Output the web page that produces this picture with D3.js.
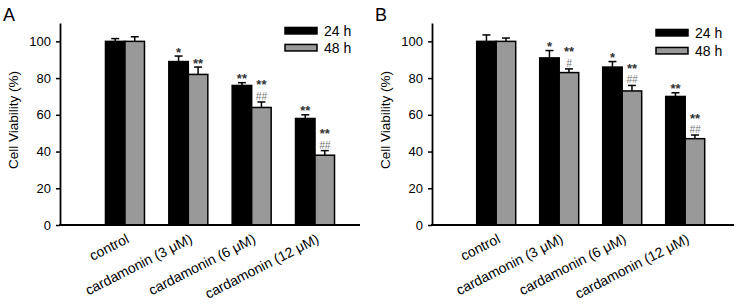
<!DOCTYPE html>
<html>
<head>
<meta charset="utf-8">
<script src="https://cdn.jsdelivr.net/npm/d3@7"></script>
<style>
  html, body { margin: 0; padding: 0; background: #fff; }
  svg { display: block; }
  text { font-family: "Liberation Sans", Arial, Helvetica, sans-serif; }
</style>
</head>
<body>
<svg id="chart" width="744" height="307"></svg>
<script>
// ---------- data ----------
const categories = ["control", "cardamonin (3 \u03BCM)", "cardamonin (6 \u03BCM)", "cardamonin (12 \u03BCM)"];
const seriesNames = ["24 h", "48 h"];
const yTicks = [0, 20, 40, 60, 80, 100];

const panelA_24h = [100, 89, 76, 58];
const panelA_24h_err = [1.5, 3, 1.5, 2];
const panelA_48h = [100, 82, 64, 38];
const panelA_48h_err = [2.5, 4, 3, 2.5];
const panelA_sig24 = ["", "*", "**", "**"];
const panelA_sig48 = ["", "**", "**", "**"];
const panelA_hash48 = ["", "", "##", "##"];

const panelB_24h = [100, 91, 86, 70];
const panelB_24h_err = [3.5, 4, 3, 2];
const panelB_48h = [100, 83, 73, 47];
const panelB_48h_err = [1.8, 2, 3, 2];
const panelB_sig24 = ["", "*", "*", "**"];
const panelB_sig48 = ["", "**", "**", "**"];
const panelB_hash48 = ["", "#", "##", "##"];

const seriesColors = ["#000000", "#999999"];

// ---------- drawing ----------
const svg = d3.select("#chart");

function drawPanel(p) {
  const g = svg.append("g");
  const y = d3.scaleLinear().domain([0, 110]).range([225, 23]);
  const x = d3.scaleBand().domain(categories).range(p.bandRange).padding(0);
  const xs = d3.scaleBand().domain(seriesNames).range([-19.5, 19.5]).padding(0);

  // panel letter
  g.append("text").attr("x", p.letterX).attr("y", 21)
    .attr("font-size", 18).attr("fill", "#000").text(p.letter);

  // y label
  g.append("text")
    .attr("transform", `translate(${p.yLabelX},120) rotate(-90)`)
    .attr("text-anchor", "middle").attr("font-size", 13.5).attr("fill", "#000")
    .text("Cell Viability (%)");

  const series = [
    { name: seriesNames[0], values: p.v24, errs: p.e24, color: seriesColors[0] },
    { name: seriesNames[1], values: p.v48, errs: p.e48, color: seriesColors[1] }
  ];

  series.forEach(s => {
    const data = categories.map((c, i) => ({ c, v: s.values[i], e: s.errs[i] }));
    // error bars
    const eg = g.append("g");
    data.forEach(d => {
      const cx = x(d.c) + x.bandwidth() / 2 + xs(s.name) + xs.bandwidth() / 2;
      eg.append("line").attr("x1", cx).attr("x2", cx)
        .attr("y1", y(d.v)).attr("y2", y(d.v + d.e))
        .attr("stroke", "#000").attr("stroke-width", 1.5);
      eg.append("line").attr("x1", cx - 4).attr("x2", cx + 4)
        .attr("y1", y(d.v + d.e)).attr("y2", y(d.v + d.e))
        .attr("stroke", "#000").attr("stroke-width", 1.5);
    });
    // bars
    g.append("g").selectAll("rect").data(data).join("rect")
      .attr("x", d => x(d.c) + x.bandwidth() / 2 + xs(s.name))
      .attr("width", xs.bandwidth())
      .attr("y", d => y(d.v))
      .attr("height", d => y(0) - y(d.v))
      .attr("fill", s.color)
      .attr("stroke", "#000").attr("stroke-width", 1.5);
  });

  // significance marks
  const ann = g.append("g").attr("text-anchor", "middle");
  categories.forEach((c, i) => {
    const c24 = x(c) + x.bandwidth() / 2 + xs(seriesNames[0]) + xs.bandwidth() / 2;
    const c48 = x(c) + x.bandwidth() / 2 + xs(seriesNames[1]) + xs.bandwidth() / 2;
    const top24 = y(p.v24[i] + p.e24[i]);
    const top48 = y(p.v48[i] + p.e48[i]);
    if (p.sig24[i]) {
      ann.append("text").attr("x", c24).attr("y", top24 + 0.5)
        .attr("font-size", 13).attr("font-weight", "bold").attr("fill", "#333").text(p.sig24[i]);
    }
    let t48 = top48;
    if (p.hash48[i]) {
      ann.append("text").attr("x", c48).attr("y", top48 - 2)
        .attr("font-size", 10).attr("font-style", "italic").attr("fill", "#777")
        .text(p.hash48[i]);
      t48 = top48 - 13;
    }
    if (p.sig48[i]) {
      ann.append("text").attr("x", c48).attr("y", t48 + 0.5)
        .attr("font-size", 13).attr("font-weight", "bold").attr("fill", "#333").text(p.sig48[i]);
    }
  });

  // y axis
  const ya = g.append("g").attr("transform", `translate(${p.left},0)`)
    .call(d3.axisLeft(y).tickValues(yTicks).tickSize(4).tickPadding(5).tickSizeOuter(0));
  ya.select(".domain").attr("stroke", "#000").attr("stroke-width", 1.8);
  ya.selectAll(".tick line").attr("stroke", "#000").attr("stroke-width", 1.5);
  ya.selectAll(".tick text").attr("font-size", 13).attr("fill", "#000")
    .attr("font-family", "'Liberation Sans', Arial, sans-serif");

  // x axis line
  g.append("line").attr("x1", p.left - 1).attr("x2", p.right)
    .attr("y1", y(0)).attr("y2", y(0))
    .attr("stroke", "#000").attr("stroke-width", 1.8);

  // x labels
  g.append("g").selectAll("text").data(categories).join("text")
    .attr("transform", d => `translate(${x(d) + x.bandwidth() / 2 + 5},242) rotate(-27)`)
    .attr("text-anchor", "end").attr("font-size", 14).attr("fill", "#000")
    .text(d => d);

  // legend
  const lg = g.append("g");
  seriesNames.forEach((n, i) => {
    const ly = p.legendY + i * p.legendStep;
    lg.append("rect").attr("x", p.legendX).attr("y", ly - 3.25)
      .attr("width", 32).attr("height", 6.5)
      .attr("fill", seriesColors[i]).attr("stroke", "#000").attr("stroke-width", 1.5);
    lg.append("text").attr("x", p.legendX + 39).attr("y", ly + 5)
      .attr("font-size", 14).attr("fill", "#000").text(n);
  });
}

drawPanel({
  letter: "A", letterX: 3, yLabelX: 18, left: 60, right: 360,
  bandRange: [93.3, 346.7],
  v24: panelA_24h, e24: panelA_24h_err, v48: panelA_48h, e48: panelA_48h_err,
  sig24: panelA_sig24, sig48: panelA_sig48, hash48: panelA_hash48,
  legendX: 285, legendY: 30.7, legendStep: 17
});

drawPanel({
  letter: "B", letterX: 375, yLabelX: 390, left: 432, right: 734,
  bandRange: [464.7, 716.7],
  v24: panelB_24h, e24: panelB_24h_err, v48: panelB_48h, e48: panelB_48h_err,
  sig24: panelB_sig24, sig48: panelB_sig48, hash48: panelB_hash48,
  legendX: 656, legendY: 32.7, legendStep: 18
});
</script>
</body>
</html>
